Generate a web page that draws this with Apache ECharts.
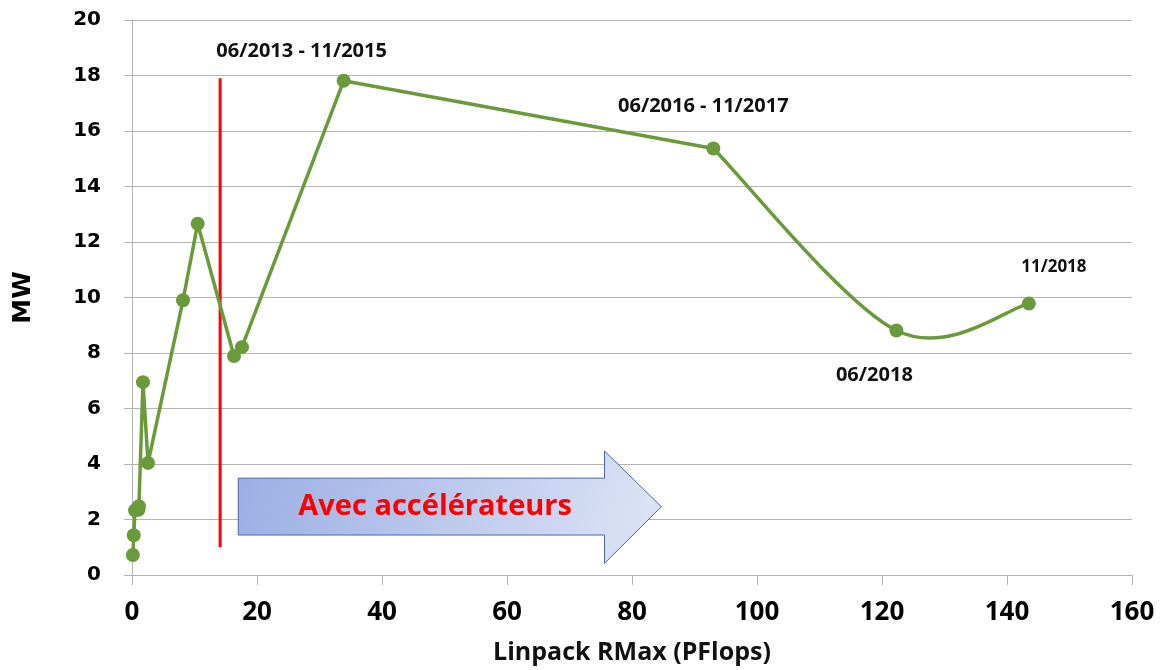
<!DOCTYPE html>
<html>
<head>
<meta charset="utf-8">
<script src="https://cdn.jsdelivr.net/npm/echarts@6/dist/echarts.min.js"></script>
<style>
  html, body { margin: 0; padding: 0; background: #ffffff; }
  #chart { width: 1160px; height: 670px; }
</style>
</head>
<body>
<div id="chart"></div>
<script>
// Top-ranked systems: Linpack Rmax (PFlops) vs power (MW)
const rmaxPF = [0.137, 0.281, 0.478, 1.026, 1.105, 1.759, 2.566, 8.162, 10.51, 16.32, 17.59, 33.86, 93.01, 122.3, 143.5];
const powerMW = [0.72, 1.43, 2.33, 2.35, 2.48, 6.95, 4.04, 9.90, 12.66, 7.89, 8.21, 17.81, 15.37, 8.81, 9.78];
const periodLabels = ['', '', '', '', '', '', '', '', '', '', '', '06/2013 - 11/2015', '06/2016 - 11/2017', '06/2018', '11/2018'];

// Accelerator-era marker line (x, y start, y end)
const dividerX = 14.1;
const dividerY = [1.0, 17.9];

// Arrow annotation outline in axis units
const arrowBody = { x0: 17.0, x1: 75.6, yTop: 3.49, yBottom: 1.44 };
const arrowHead = { xTip: 84.7, yTip: 2.46, yTop: 4.47, yBottom: 0.42 };
const arrowText = 'Avec accélérateurs';
const arrowTextPos = [48.5, 2.45];

const xTicks = { min: 0, max: 160, interval: 20 };
const yTicks = { min: 0, max: 20, interval: 2 };

// The curve is drawn straight up to this point index, then smoothed
const curveFrom = 12;
const curveTension = 1 / 6;

// Where each period label sits relative to its point
const labelPlacement = {
  '06/2013 - 11/2015': { position: 'top', offset: [-42, -7], size: 20 },
  '06/2016 - 11/2017': { position: 'top', offset: [-10, -20], size: 20 },
  '06/2018': { position: 'bottom', offset: [-22, 23], size: 20 },
  '11/2018': { position: 'top', offset: [25, -16], size: 17 }
};

const green = '#6a9b3b';
const labelFont = '"Open Sans", sans-serif';

const pointData = rmaxPF.map((x, i) => {
  const text = periodLabels[i];
  const item = { value: [x, powerMW[i]] };
  if (text) {
    const p = labelPlacement[text];
    item.label = {
      show: true,
      formatter: text,
      position: p.position,
      offset: p.offset,
      color: '#111111',
      fontFamily: labelFont,
      fontWeight: 'bold',
      fontSize: p.size
    };
  }
  return item;
});

// Power curve: straight segments, then cubic segments with Catmull-Rom tangents
function renderCurve(params, api) {
  const pts = rmaxPF.map((x, i) => api.coord([x, powerMW[i]]));
  let d = 'M' + pts[0][0] + ' ' + pts[0][1];
  for (let i = 1; i < pts.length; i++) {
    const a = pts[i - 1], b = pts[i];
    if (i - 1 < curveFrom) {
      d += ' L' + b[0] + ' ' + b[1];
      continue;
    }
    const prev = (i - 2 >= curveFrom) ? pts[i - 2] : a;
    const next = pts[i + 1] || b;
    const c1 = [a[0] + (b[0] - prev[0]) * curveTension, a[1] + (b[1] - prev[1]) * curveTension];
    const c2 = [b[0] - (next[0] - a[0]) * curveTension, b[1] - (next[1] - a[1]) * curveTension];
    d += ' C' + c1[0] + ' ' + c1[1] + ' ' + c2[0] + ' ' + c2[1] + ' ' + b[0] + ' ' + b[1];
  }
  return {
    type: 'path',
    shape: { pathData: d },
    style: { fill: 'none', stroke: green, lineWidth: 3.5, lineJoin: 'round', lineCap: 'round' }
  };
}

function renderArrow(params, api) {
  const pts = [
    [arrowBody.x0, arrowBody.yTop],
    [arrowBody.x1, arrowBody.yTop],
    [arrowBody.x1, arrowHead.yTop],
    [arrowHead.xTip, arrowHead.yTip],
    [arrowBody.x1, arrowHead.yBottom],
    [arrowBody.x1, arrowBody.yBottom],
    [arrowBody.x0, arrowBody.yBottom]
  ].map(p => api.coord(p));
  const tc = api.coord(arrowTextPos);
  return {
    type: 'group',
    children: [
      {
        type: 'polygon',
        shape: { points: pts },
        style: {
          fill: {
            type: 'linear', x: 0, y: 0, x2: 1, y2: 1,
            colorStops: [
              { offset: 0, color: '#9aaee4' },
              { offset: 1, color: '#dfe5f6' }
            ]
          },
          stroke: '#4b67a8',
          lineWidth: 1
        }
      },
      {
        type: 'text',
        style: {
          text: arrowText,
          x: tc[0], y: tc[1],
          align: 'center', verticalAlign: 'middle',
          fill: '#ff0000',
          font: 'bold 29px "Open Sans", sans-serif'
        }
      }
    ]
  };
}

const chart = echarts.init(document.getElementById('chart'), null, { renderer: 'canvas' });

chart.setOption({
  animation: false,
  backgroundColor: '#ffffff',
  grid: { left: 132, right: 28, top: 20, bottom: 94 },
  xAxis: {
    type: 'value',
    min: xTicks.min, max: xTicks.max, interval: xTicks.interval,
    name: 'Linpack RMax (PFlops)',
    nameLocation: 'middle',
    nameGap: 65,
    nameTextStyle: { fontFamily: labelFont, fontWeight: 'bold', fontSize: 25, color: '#111111' },
    axisLine: { show: true, lineStyle: { color: '#b4b4b4', width: 1 } },
    axisTick: { show: true, length: 10, lineStyle: { color: '#b4b4b4' } },
    axisLabel: { margin: 25, fontFamily: labelFont, fontWeight: 'bold', fontSize: 26, color: '#000000' },
    splitLine: { show: false }
  },
  yAxis: {
    type: 'value',
    min: yTicks.min, max: yTicks.max, interval: yTicks.interval,
    name: 'MW',
    nameLocation: 'middle',
    nameGap: 96,
    nameRotate: 90,
    nameTextStyle: { fontFamily: '"DejaVu Sans", sans-serif', fontWeight: 'bold', fontSize: 25, color: '#000000' },
    axisLine: { show: true, lineStyle: { color: '#b4b4b4', width: 1 } },
    axisTick: { show: true, length: 8, lineStyle: { color: '#b4b4b4' } },
    axisLabel: { margin: 31, fontFamily: '"DejaVu Sans", sans-serif', fontWeight: 'bold', fontSize: 20, color: '#000000' },
    splitLine: { show: true, lineStyle: { color: '#b4b4b4', width: 1 } }
  },
  series: [
    {
      name: 'divider',
      type: 'line',
      data: [[dividerX, dividerY[0]], [dividerX, dividerY[1]]],
      symbol: 'none',
      lineStyle: { color: '#ff0000', width: 3 },
      z: 2
    },
    {
      name: 'arrow',
      type: 'custom',
      data: [[arrowTextPos[0], arrowTextPos[1]]],
      clip: false,
      z: 3,
      renderItem: renderArrow
    },
    {
      name: 'curve',
      type: 'custom',
      data: [[rmaxPF[0], powerMW[0]]],
      clip: false,
      z: 4,
      renderItem: renderCurve
    },
    {
      name: 'power',
      type: 'scatter',
      data: pointData,
      symbol: 'circle',
      symbolSize: 14,
      itemStyle: { color: green, opacity: 1 },
      z: 5
    }
  ]
});
</script>
</body>
</html>
